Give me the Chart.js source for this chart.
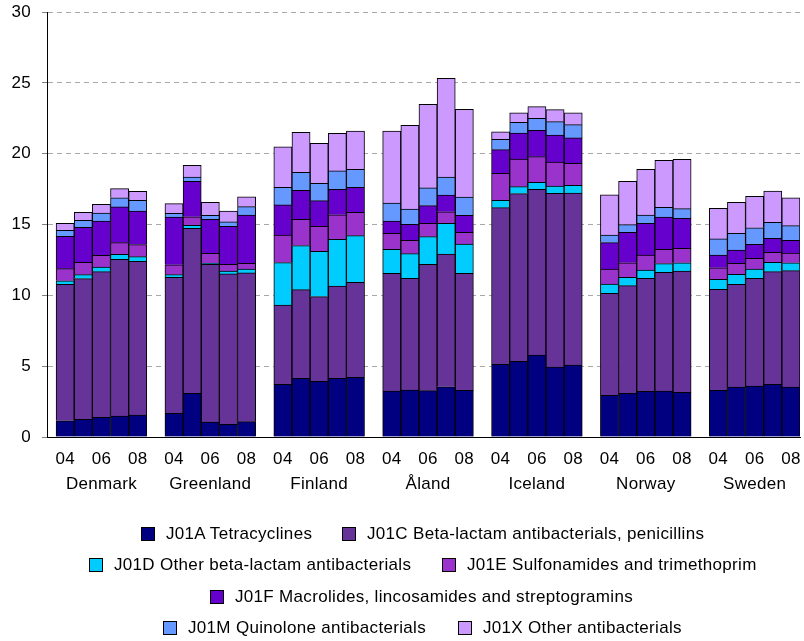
<!DOCTYPE html>
<html>
<head>
<meta charset="utf-8">
<script src="https://cdn.jsdelivr.net/npm/chart.js@4.4.0/dist/chart.umd.min.js"></script>
<style>
  html, body { margin: 0; padding: 0; background: #fff; overflow: hidden; }
  #wrap { position: relative; width: 804px; height: 641px; }
  #c { position: absolute; left: 0; top: 0; }
  .litem { position: absolute; height: 20px; display: flex; align-items: center;
           font-family: "Liberation Sans", Arial, sans-serif; font-size: 17px; letter-spacing: 0.32px; color: #000; white-space: nowrap; }
  .lbox { box-sizing: border-box; width: 14px; height: 14px; border: 1px solid #000; margin-right: 11px; flex: none; }
</style>
</head>
<body>
<div id="wrap">
  <canvas id="c" width="804" height="641"></canvas>
  <div id="legend"></div>
</div>
<script>
const countries = ["Denmark", "Greenland", "Finland", "Åland", "Iceland", "Norway", "Sweden"];
const years = ["04", "05", "06", "07", "08"];
const shownYears = ["04", "06", "08"];
const yTicks = [0, 5, 10, 15, 20, 25, 30];

const seriesNames = [
  "J01A Tetracyclines",
  "J01C Beta-lactam antibacterials, penicillins",
  "J01D Other beta-lactam antibacterials",
  "J01E Sulfonamides and trimethoprim",
  "J01F Macrolides, lincosamides and streptogramins",
  "J01M Quinolone antibacterials",
  "J01X Other antibacterials"
];
const seriesColors = ["#000080", "#663399", "#00CCFF", "#9933CC", "#6600CC", "#6699FF", "#CC99FF"];

// values per country (Denmark, Greenland, Finland, Åland, Iceland, Norway, Sweden), years 04..08
const J01A = [1.15,1.25,1.39,1.48,1.55, 1.67,3.08,1.06,0.89,1.08, 3.72,4.14,3.93,4.14,4.21, 3.25,3.32,3.27,3.55,3.29, 5.13,5.34,5.79,4.94,5.08, 2.94,3.08,3.22,3.25,3.15, 3.29,3.53,3.60,3.72,3.53];
const J01C = [9.63,9.93,10.28,11.06,10.85, 9.60,11.65,11.13,10.62,10.50, 5.60,6.26,5.98,6.52,6.71, 8.30,7.88,8.92,9.37,8.26, 11.06,11.84,11.69,12.26,12.14, 7.20,7.60,7.98,8.37,8.57, 7.13,7.25,7.60,7.95,8.21];
const J01D = [0.25,0.28,0.33,0.35,0.33, 0.19,0.21,0.07,0.21,0.28, 2.99,3.11,3.20,3.29,3.29, 1.70,1.74,1.95,2.16,2.07, 0.52,0.49,0.50,0.52,0.55, 0.66,0.59,0.59,0.62,0.58, 0.71,0.70,0.66,0.66,0.56];
const J01E = [0.85,0.87,0.82,0.83,0.85, 0.70,0.61,0.70,0.47,0.40, 1.95,1.86,1.76,1.74,1.65, 1.13,0.94,0.94,0.82,0.83, 1.90,1.95,1.81,1.69,1.55, 1.06,1.03,1.06,1.01,1.02, 0.82,0.78,0.75,0.71,0.69];
const J01F = [2.29,2.47,2.43,2.52,2.37, 3.37,2.50,2.40,2.68,3.41, 2.12,2.04,1.81,1.79,1.76, 0.87,1.13,1.25,1.18,1.20, 1.67,1.84,1.86,1.91,1.79, 1.86,2.15,2.23,2.28,2.12, 0.90,0.94,0.99,0.99,0.89];
const J01M = [0.42,0.49,0.56,0.65,0.76, 0.26,0.30,0.29,0.31,0.59, 1.24,1.27,1.23,1.30,1.28, 1.27,1.08,1.25,1.27,1.29, 0.73,0.75,0.84,0.94,0.94, 0.54,0.54,0.59,0.68,0.68, 1.13,1.18,1.17,1.12,1.04];
const J01X = [0.49,0.57,0.61,0.64,0.63, 0.68,0.83,0.91,0.77,0.70, 2.87,2.83,2.82,2.66,2.70, 5.08,5.91,5.90,6.97,6.19, 0.54,0.68,0.83,0.85,0.84, 2.84,3.06,3.23,3.32,3.48, 2.16,2.18,2.22,2.21,1.97];

const seriesValues = [J01A, J01C, J01D, J01E, J01F, J01M, J01X];

// slot layout: 5 bars per country + 1 empty slot between countries
const slot = (g, k) => g * (years.length + 1) + k;

const tickLabel = {};
countries.forEach((c, g) => {
  years.forEach((y, k) => {
    if (shownYears.includes(y)) {
      tickLabel[slot(g, k)] = (k === 2) ? [y, c] : [y];
    }
  });
});
const xTickValues = Object.keys(tickLabel).map(Number);

const datasets = seriesNames.map((name, si) => ({
  label: name,
  backgroundColor: seriesColors[si],
  borderColor: "#000",
  borderWidth: 1,
  barPercentage: 1,
  categoryPercentage: 1,
  data: countries.flatMap((c, g) => years.map((y, k) => ({ x: slot(g, k), y: seriesValues[si][g * years.length + k] })))
}));

const FONT = "'Liberation Sans', Arial, sans-serif";

const spacingPlugin = {
  id: "spacing",
  beforeDraw(chart) { try { chart.ctx.letterSpacing = "0.3px"; } catch (e) {} }
};

new Chart(document.getElementById("c"), {
  type: "bar",
  data: { datasets },
  plugins: [spacingPlugin],
  options: {
    responsive: false,
    devicePixelRatio: 1,
    animation: false,
    layout: { padding: { top: 12, left: 0, right: 4, bottom: 134 } },
    plugins: { legend: { display: false }, tooltip: { enabled: false } },
    scales: {
      x: {
        type: "linear",
        stacked: true,
        offset: false,
        min: -1,
        max: 40.5,
        grid: { display: false, drawTicks: false, offset: false },
        border: { display: true, color: "#000", width: 1 },
        afterBuildTicks: (scale) => { scale.ticks = xTickValues.map(v => ({ value: v })); },
        afterFit: (scale) => { scale.height = 70; scale.paddingLeft = 0; scale.paddingRight = 0; },
        ticks: {
          autoSkip: false,
          maxRotation: 0,
          minRotation: 0,
          padding: 10,
          color: "#000",
          font: { family: FONT, size: 17, lineHeight: 25 / 17 },
          callback: (v) => tickLabel[v] || ""
        }
      },
      y: {
        stacked: true,
        min: 0,
        max: 30,
        afterBuildTicks: (scale) => { scale.ticks = yTicks.map(v => ({ value: v })); },
        afterFit: (scale) => { scale.width = 47; scale.paddingTop = 0; scale.paddingBottom = 0; },
        grid: {
          color: (ctx) => (ctx.tick && ctx.tick.value === 0) ? "rgba(0,0,0,0)" : "#a8a8a8",
          tickColor: "#808080",
          tickLength: 5,
          lineWidth: 1
        },
        border: { display: true, color: "#000", width: 1, dash: [5, 4] },
        ticks: {
          padding: 11,
          color: "#000",
          font: { family: FONT, size: 17 }
        }
      }
    }
  }
});

// HTML legend: item box left position and row centre
const legendPos = [[141, 534], [342, 534], [89, 564.5], [442, 564.5], [210, 596.5], [163, 628.3], [458, 628.3]];
const legendEl = document.getElementById("legend");
seriesNames.forEach((name, si) => {
  const it = document.createElement("div");
  it.className = "litem";
  it.style.left = legendPos[si][0] + "px";
  it.style.top = (legendPos[si][1] - 10) + "px";
  const b = document.createElement("div");
  b.className = "lbox";
  b.style.background = seriesColors[si];
  const t = document.createElement("span");
  t.textContent = name;
  it.appendChild(b); it.appendChild(t);
  legendEl.appendChild(it);
});
</script>
</body>
</html>
